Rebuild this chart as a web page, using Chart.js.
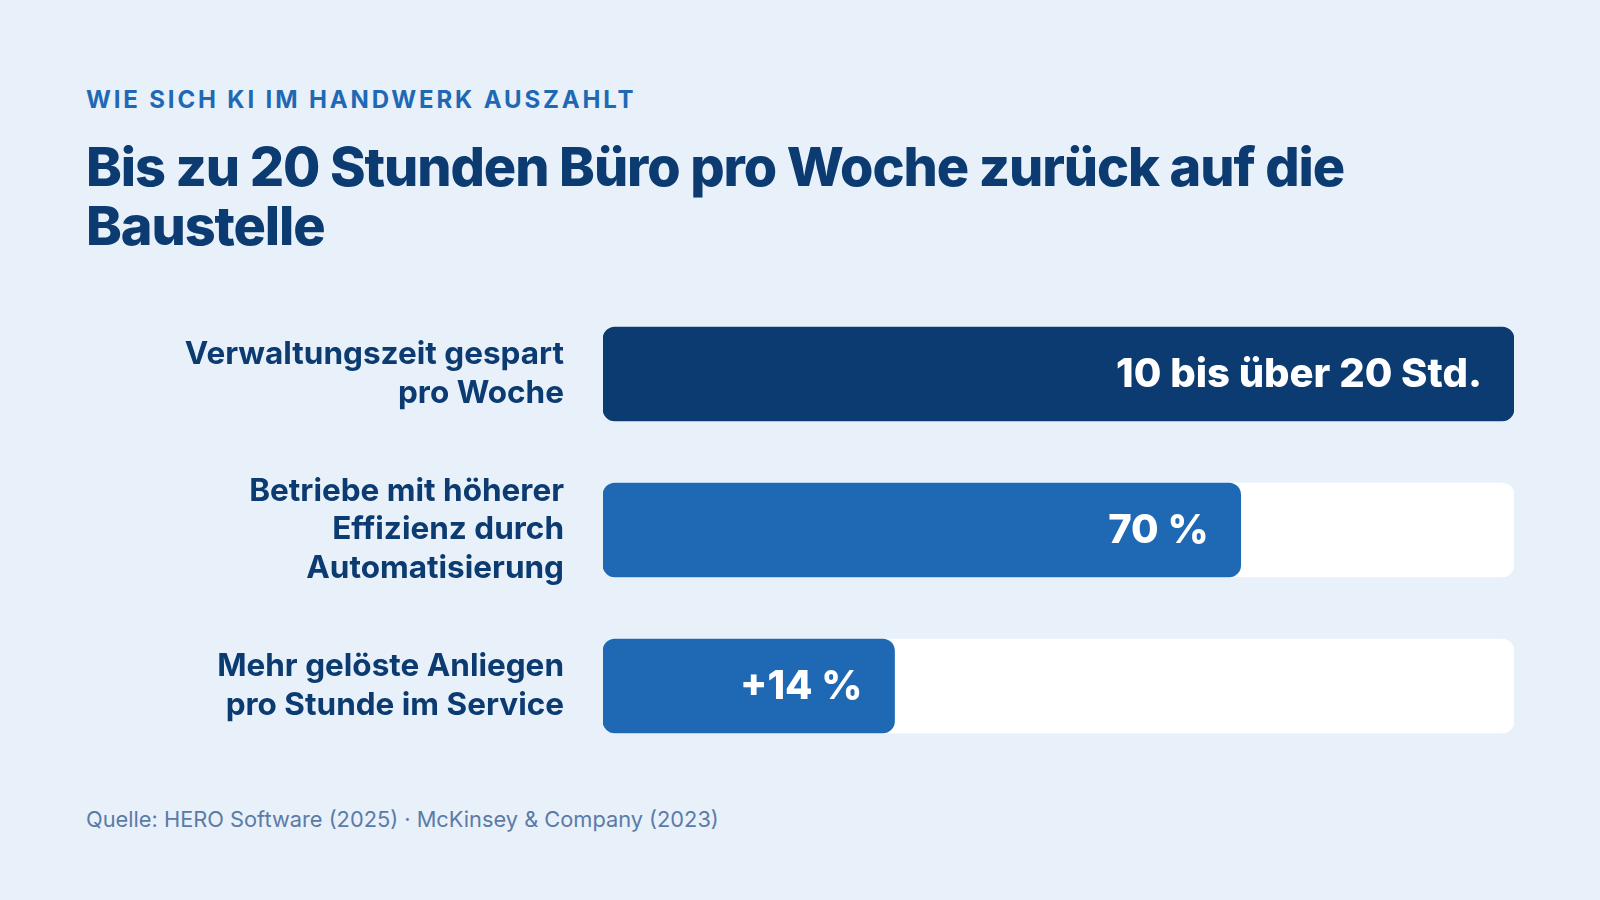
<!DOCTYPE html>
<html lang="de">
<head>
<meta charset="utf-8">
<title>KI im Handwerk</title>
<script src="https://cdn.jsdelivr.net/npm/chart.js@4.4.1/dist/chart.umd.min.js"></script>
<style>
  html, body { margin: 0; padding: 0; }
  body {
    width: 1600px; height: 900px; position: relative; overflow: hidden;
    background: #e8f0fa; font-family: Inter, "Noto Sans", sans-serif;
  }
  .kicker {
    position: absolute; left: 86px; top: 88px;
    font-size: 24px; line-height: 24px; font-weight: 700;
    letter-spacing: 2.85px; color: #1f69b4;
  }
  .headline {
    position: absolute; left: 86px; top: 137px; width: 1400px;
    font-size: 54px; line-height: 59px; font-weight: 800;
    letter-spacing: -1.1px; color: #0b3b70;
  }
  .source {
    position: absolute; left: 86px; top: 808px;
    font-size: 21.8px; line-height: 22px; font-weight: 400; color: #5b7ba6;
  }
  #wrap { position: absolute; left: 0; top: 296px; width: 1600px; height: 468px; }
</style>
</head>
<body>
<div class="kicker">WIE SICH KI IM HANDWERK AUSZAHLT</div>
<div class="headline">Bis zu 20 Stunden Büro pro Woche zurück auf die<br>Baustelle</div>
<div id="wrap"><canvas id="chart"></canvas></div>
<div class="source">Quelle: HERO Software (2025) · McKinsey &amp; Company (2023)</div>

<script>
// categories (multi-line labels as drawn)
const categories = [
  ['Verwaltungszeit gespart', 'pro Woche'],
  ['Betriebe mit höherer', 'Effizienz durch', 'Automatisierung'],
  ['Mehr gelöste Anliegen', 'pro Stunde im Service']
];
// bar length on a 0-100 track
const barValues = [100, 70, 32];
const trackValues = [100, 100, 100];
// text printed inside each bar
const valueLabels = ['10 bis über 20 Std.', '70 %', '+14 %'];
const barColors = ['#0b3b70', '#1f69b4', '#1f69b4'];

// writes the value text inside the right end of each bar
const insideLabels = {
  id: 'insideLabels',
  afterDatasetsDraw(chart) {
    const meta = chart.getDatasetMeta(0);
    const c = chart.ctx;
    c.save();
    c.fillStyle = '#ffffff';
    c.font = '800 40px Inter, sans-serif';
    c.textAlign = 'right';
    c.textBaseline = 'middle';
    meta.data.forEach((bar, i) => {
      c.fillText(valueLabels[i], bar.x - 32, bar.y + 1);
    });
    c.restore();
  }
};

const chart = new Chart(document.getElementById('chart'), {
  type: 'bar',
  data: {
    labels: categories,
    datasets: [
      {
        data: barValues,
        backgroundColor: barColors,
        borderRadius: 12,
        borderSkipped: false,
        barThickness: 94,
        grouped: false,
        order: 0
      },
      {
        data: trackValues,
        backgroundColor: '#ffffff',
        borderRadius: 12,
        borderSkipped: false,
        barThickness: 94,
        grouped: false,
        order: 1
      }
    ]
  },
  options: {
    indexAxis: 'y',
    responsive: true,
    maintainAspectRatio: false,
    animation: false,
    layout: { padding: { left: 0, right: 86, top: 0, bottom: 0 } },
    plugins: {
      legend: { display: false },
      tooltip: { enabled: false }
    },
    scales: {
      x: { display: false, min: 0, max: 100 },
      y: {
        grid: { display: false, drawTicks: false },
        border: { display: false },
        ticks: {
          padding: 39,
          color: '#0b3b70',
          font: { family: 'Inter', size: 31.5, weight: '700', lineHeight: 1.23 }
        },
        afterFit(scale) {
          scale.width = 603;
          scale.paddingTop = 0;
          scale.paddingBottom = 0;
        }
      }
    }
  },
  plugins: [insideLabels]
});
</script>
</body>
</html>
